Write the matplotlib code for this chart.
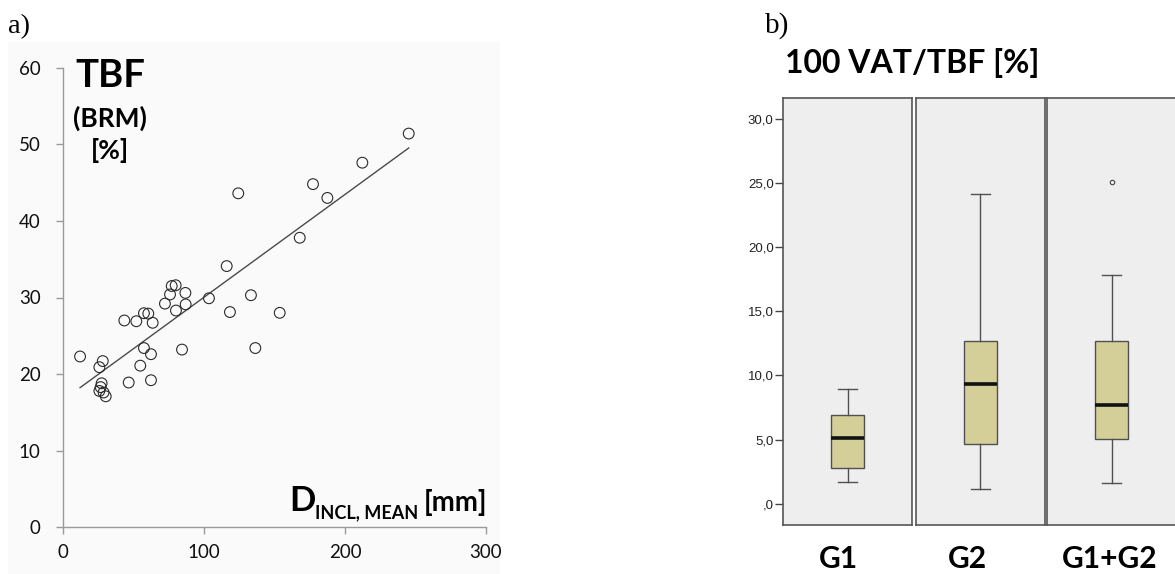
import numpy as np
import matplotlib
matplotlib.use("Agg")
import matplotlib.pyplot as plt

# ---- panel a) data: inclusion diameter vs total body fat ----
d_incl_mean = [12.1, 25.8, 28.2, 27.4, 26.7, 25.8, 28.8, 30.3,
               43.5, 52.0, 46.6, 57.4, 60.5, 63.6, 57.4, 62.4, 54.8, 62.4,
               72.3, 75.9, 77.1, 79.9, 86.8, 80.1, 87.0, 84.4,
               103.5, 116.1, 118.4, 124.3, 133.3, 136.4, 153.7,
               167.9, 177.3, 187.5, 212.3, 245.2]
tbf_brm = [22.3, 20.9, 21.7, 18.8, 18.3, 17.8, 17.6, 17.1,
           27.0, 26.9, 18.9, 27.95, 27.9, 26.7, 23.4, 22.6, 21.1, 19.2,
           29.2, 30.4, 31.5, 31.6, 30.6, 28.3, 29.1, 23.2,
           29.9, 34.1, 28.1, 43.6, 30.3, 23.4, 28.0,
           37.8, 44.8, 43.0, 47.6, 51.4]
x_ticks_a = [0, 100, 200, 300]
y_ticks_a = [0, 10, 20, 30, 40, 50, 60]

# ---- panel b) data: box plot summaries of 100 VAT/TBF ----
groups = ["G1", "G2", "G1+G2"]
whisker_low = [1.66, 1.17, 1.58]
q1 = [2.78, 4.68, 5.04]
median = [5.12, 9.31, 7.67]
q3 = [6.91, 12.71, 12.71]
whisker_high = [8.97, 24.15, 17.83]
outliers = [[], [], [25.09]]
y_ticks_b = [0, 5, 10, 15, 20, 25, 30]
y_tick_labels_b = [",0", "5,0", "10,0", "15,0", "20,0", "25,0", "30,0"]

W, H = 1175, 574
fig = plt.figure(figsize=(W / 100, H / 100), dpi=100)
fig.patch.set_facecolor("white")


def fx(x):
    return x / W


def fy(y):
    return 1 - y / H


# light backdrop behind panel a)
fig.patches.append(plt.Rectangle((fx(8), 0), fx(500) - fx(8), fy(42),
                                 transform=fig.transFigure,
                                 facecolor="#fafafa", edgecolor="none", zorder=-5))

sans = ["Lato", "DejaVu Sans"]
serif = ["Liberation Serif", "DejaVu Serif"]

# ---------------- panel a) ----------------
ax = fig.add_axes([fx(63), fy(527.3), fx(486) - fx(63), fy(67.7) - fy(527.3)])
ax.set_facecolor("none")
ax.set_xlim(0, 300)
ax.set_ylim(0, 60)
for s in ("top", "right"):
    ax.spines[s].set_visible(False)
for s in ("left", "bottom"):
    ax.spines[s].set_color("#9a9a9a")
    ax.spines[s].set_linewidth(1.0)
ax.set_xticks(x_ticks_a)
ax.set_yticks(y_ticks_a)
ax.tick_params(axis="both", colors="#9a9a9a", length=5, width=1.0,
               labelcolor="#111111", labelsize=13.5)
ax.tick_params(axis="x", pad=7)
ax.tick_params(axis="y", pad=11)
for lab in ax.get_xticklabels() + ax.get_yticklabels():
    lab.set_family(sans)

ax.scatter(d_incl_mean, tbf_brm, s=60, facecolors="none",
           edgecolors="#2b2b2b", linewidths=0.8, zorder=3)
slope, intercept = np.polyfit(d_incl_mean, tbf_brm, 1)
xs = np.array([min(d_incl_mean), max(d_incl_mean)])
ax.plot(xs, intercept + slope * xs, color="#4a4a4a", lw=1.0, zorder=2)

fig.text(fx(110), fy(87), "TBF", family=sans, weight="bold", fontsize=27.5,
         ha="center", va="baseline")
fig.text(fx(110), fy(127), "(BRM)", family=sans, weight="bold", fontsize=19,
         ha="center", va="baseline")
fig.text(fx(110), fy(159), "[%]", family=sans, weight="bold", fontsize=19,
         ha="center", va="baseline")
fig.text(fx(289), fy(511), "D", family=sans, weight="bold", fontsize=25,
         ha="left", va="baseline")
fig.text(fx(315), fy(518), "INCL, MEAN", family=sans, weight="bold",
         fontsize=13, ha="left", va="baseline")
fig.text(fx(424), fy(511), "[mm]", family=sans, weight="bold", fontsize=20,
         ha="left", va="baseline")
fig.text(fx(8), fy(33), "a)", family=serif, fontsize=20.5, ha="left",
         va="baseline")

# ---------------- panel b) ----------------
fig.text(fx(765), fy(33), "b)", family=serif, fontsize=21, ha="left",
         va="baseline")
fig.text(fx(785), fy(73), "100 VAT/TBF [%]", family=sans, weight="bold",
         fontsize=23, ha="left", va="baseline")

panel_left = [783.3, 915.7, 1047.2]
label_x = [838, 967, 1110]
panel_w = 129.0
ylo, yhi = -1.64, 31.64
narrow = ["Liberation Sans Narrow", "Liberation Sans", "DejaVu Sans"]
for i, g in enumerate(groups):
    bx = fig.add_axes([fx(panel_left[i]), fy(524.8), fx(panel_w),
                       fy(97.7) - fy(524.8)])
    bx.set_facecolor("#eeeeee")
    for s in bx.spines.values():
        s.set_color("#555555")
        s.set_linewidth(1.2)
    bx.set_xlim(0, 1)
    bx.set_ylim(ylo, yhi)
    bx.set_xticks([])
    stats = [dict(med=median[i], q1=q1[i], q3=q3[i], whislo=whisker_low[i],
                  whishi=whisker_high[i], fliers=outliers[i])]
    bx.bxp(stats, positions=[0.5], widths=0.256, patch_artist=True,
           boxprops=dict(facecolor="#d4cf99", edgecolor="#505050", lw=1.0),
           medianprops=dict(color="#111111", lw=2.6),
           whiskerprops=dict(color="#505050", lw=1.0),
           capprops=dict(color="#505050", lw=1.0),
           capwidths=0.15,
           flierprops=dict(marker="o", markersize=3.2, markerfacecolor="none",
                           markeredgecolor="#444444", markeredgewidth=0.8))
    bx.set_xticks([])
    if i == 0:
        bx.set_yticks(y_ticks_b)
        bx.set_yticklabels(y_tick_labels_b, family=narrow, fontsize=9.5)
        bx.tick_params(axis="y", length=6, width=1.0, color="#444444",
                       pad=1, labelcolor="#222222")
    else:
        bx.set_yticks([])
    fig.text(fx(label_x[i]), fy(568), g, family=sans,
             weight="bold", fontsize=21.5, ha="center", va="baseline")

fig.savefig("out.png", dpi=100)
